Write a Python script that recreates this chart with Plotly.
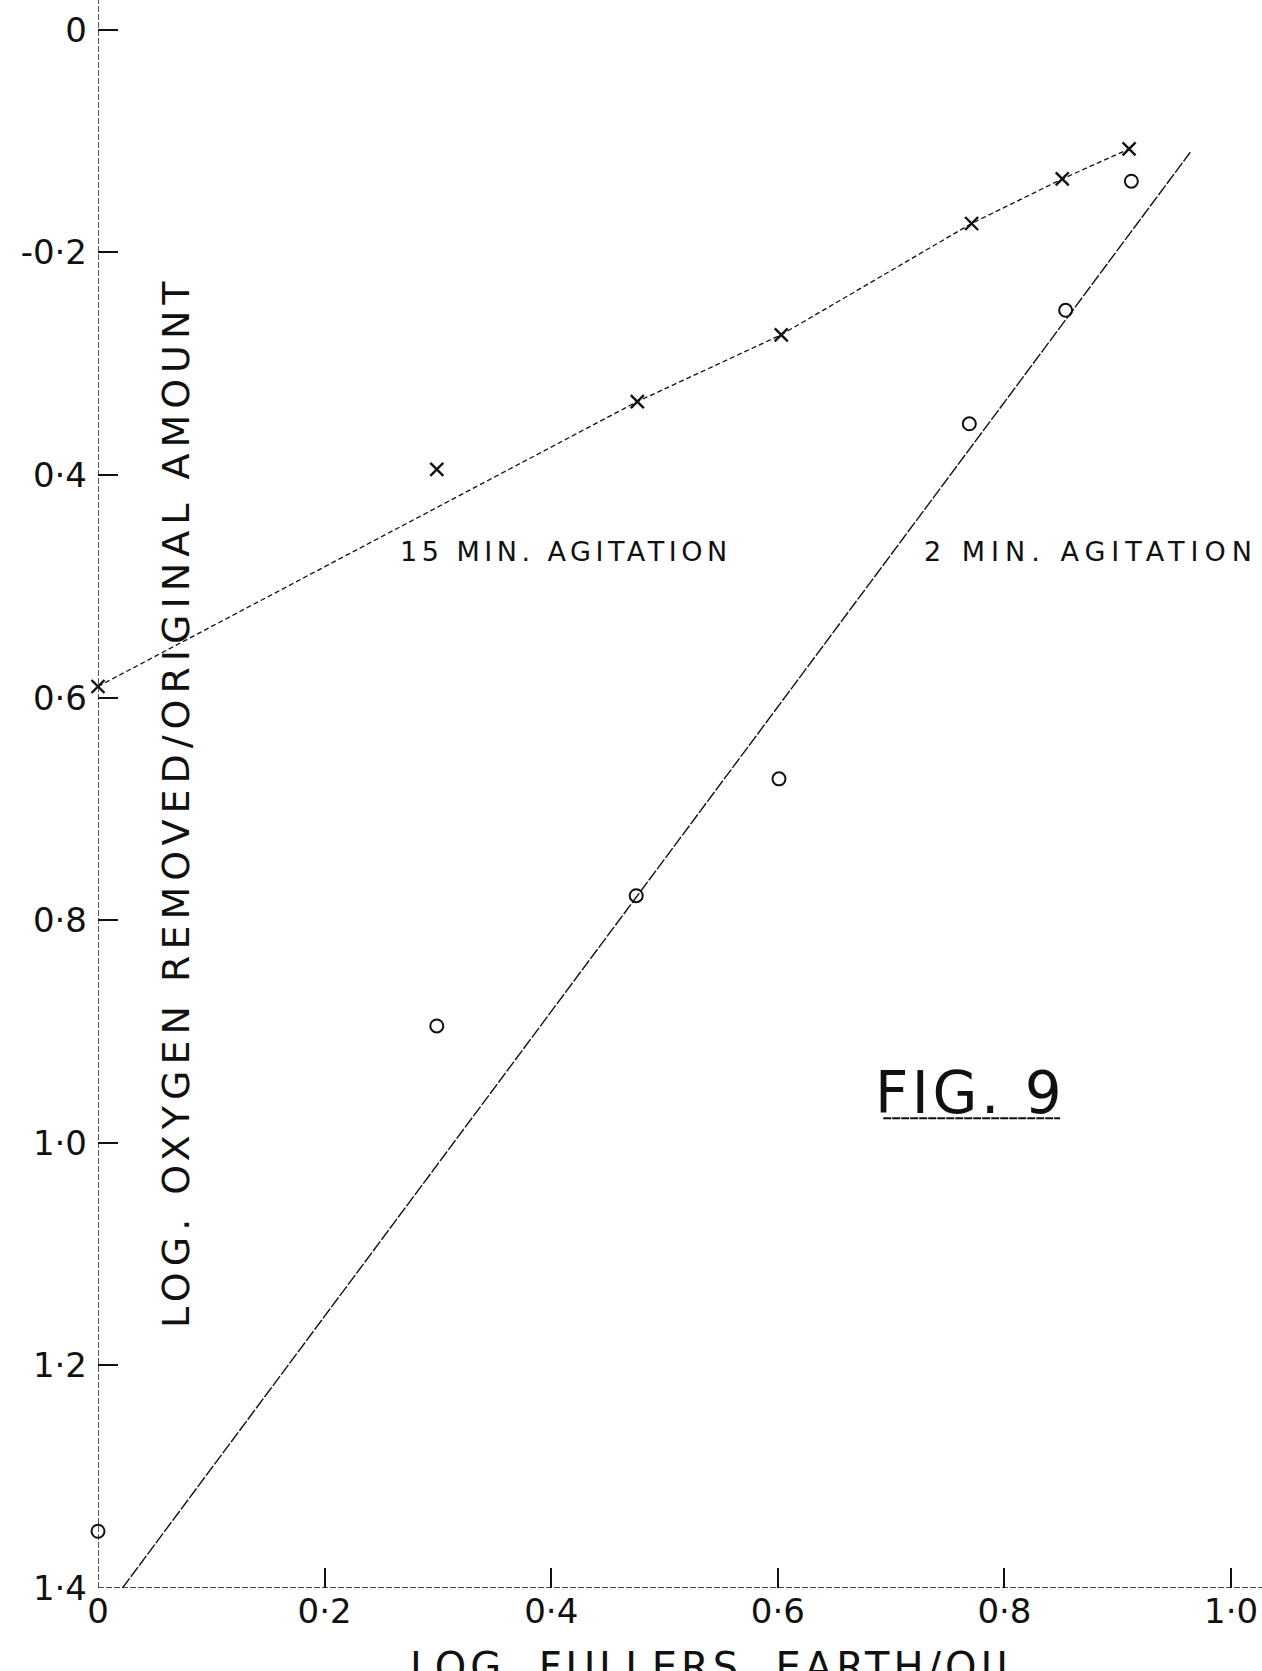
import plotly.graph_objects as go

# Log fuller's earth / oil ratio for each run
x_15min = [0.0, 0.299, 0.476, 0.603, 0.771, 0.851, 0.910]
y_15min = [-0.590, -0.395, -0.334, -0.274, -0.174, -0.134, -0.107]

x_2min = [0.0, 0.299, 0.475, 0.601, 0.769, 0.854, 0.912]
y_2min = [-1.349, -0.895, -0.778, -0.673, -0.354, -0.252, -0.136]

# Drawn curves through the results
fit_15min_x = [0.0, 0.476, 0.603, 0.771, 0.851, 0.910]
fit_15min_y = [-0.590, -0.334, -0.274, -0.174, -0.134, -0.107]
fit_2min_x = [0.0216, 0.964]
fit_2min_y = [-1.400, -0.110]

x_ticks = [0.0, 0.2, 0.4, 0.6, 0.8, 1.0]
x_tick_text = ["0", "0·2", "0·4", "0·6", "0·8", "1·0"]
y_ticks = [0.0, -0.2, -0.4, -0.6, -0.8, -1.0, -1.2, -1.4]
y_tick_text = ["0", "-0·2", "0·4", "0·6", "0·8", "1·0", "1·2", "1·4"]

FONT = "DejaVu Sans"
INK = "#111111"


def spaced(text, px):
    """Stencil-style lettering with open tracking."""
    return f'<span style="letter-spacing:{px}px">{text}</span>'


fig = go.Figure()

fig.add_trace(go.Scatter(x=fit_15min_x, y=fit_15min_y, mode="lines",
                         line=dict(color=INK, width=1.3, dash="5px,3px"),
                         hoverinfo="skip", showlegend=False))
fig.add_trace(go.Scatter(x=fit_2min_x, y=fit_2min_y, mode="lines",
                         line=dict(color=INK, width=1.4, dash="12px,2px"),
                         hoverinfo="skip", showlegend=False))
fig.add_trace(go.Scatter(x=x_15min, y=y_15min, mode="markers", cliponaxis=False,
                         marker=dict(symbol="x-thin", size=13, color=INK,
                                     line=dict(width=2.4, color=INK)),
                         name="15 min", showlegend=False))
fig.add_trace(go.Scatter(x=x_2min, y=y_2min, mode="markers", cliponaxis=False,
                         marker=dict(symbol="circle-open", size=13, color=INK,
                                     line=dict(width=2, color=INK)),
                         name="2 min", showlegend=False))

# Hand-ruled axes
axis_line = dict(color=INK, width=1.4, dash="6px,2px")
fig.add_shape(type="line", xref="x", yref="paper", x0=0, x1=0, y0=0, y1=1, line=axis_line)
fig.add_shape(type="line", xref="paper", yref="y", x0=0, x1=1, y0=-1.4, y1=-1.4, line=axis_line)

# Figure caption underline
fig.add_shape(type="line", xref="x", yref="y", x0=0.693, x1=0.849, y0=-0.978, y1=-0.978,
              line=dict(color=INK, width=2, dash="8px,1px"))

fig.add_annotation(x=0.413, y=-0.469, xref="x", yref="y", text=spaced("15 MIN. AGITATION", 4.5),
                   showarrow=False, font=dict(family=FONT, size=27, color=INK))
fig.add_annotation(x=0.876, y=-0.469, xref="x", yref="y", text=spaced("2 MIN. AGITATION", 6),
                   showarrow=False, font=dict(family=FONT, size=27, color=INK))
fig.add_annotation(x=0.770, y=-0.955, xref="x", yref="y", text=spaced("FIG. 9", 3.5),
                   showarrow=False, font=dict(family=FONT, size=58, color=INK))

fig.add_annotation(x=0.067, y=0.4956, xref="paper", yref="paper",
                   xanchor="center", yanchor="middle",
                   text=spaced("LOG. OXYGEN REMOVED/ORIGINAL AMOUNT", 6), textangle=-90,
                   showarrow=False, font=dict(family=FONT, size=38, color=INK))
fig.add_annotation(x=0.531, y=-0.05, xref="paper", yref="paper",
                   xanchor="center", yanchor="middle",
                   text=spaced("LOG  FULLERS  EARTH/OIL", 4),
                   showarrow=False, font=dict(family=FONT, size=40, color=INK))

fig.update_xaxes(range=[0, 1.0273], tickvals=x_ticks, ticktext=x_tick_text,
                 ticks="inside", ticklen=20, tickwidth=2, tickcolor=INK,
                 showgrid=False, zeroline=False, showline=False,
                 tickfont=dict(family=FONT, size=34, color=INK))
fig.update_yaxes(range=[-1.4, 0.0268], tickvals=y_ticks, ticktext=y_tick_text,
                 ticks="inside", ticklen=20, tickwidth=2, tickcolor=INK,
                 ticklabelstandoff=10,
                 showgrid=False, zeroline=False, showline=False,
                 tickfont=dict(family=FONT, size=34, color=INK))

fig.update_layout(width=1262, height=1671,
                  margin=dict(l=98, r=0, t=0, b=83),
                  paper_bgcolor="white", plot_bgcolor="white")

fig.write_html("out.html")
